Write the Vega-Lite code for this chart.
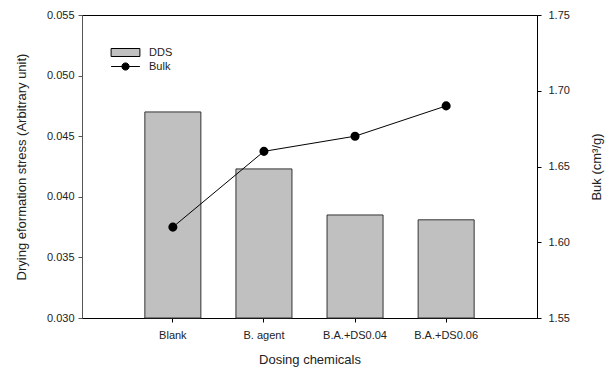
{
  "$schema": "https://vega.github.io/schema/vega-lite/v6.json",
  "width": 455,
  "height": 303,
  "autosize": {"type": "none"},
  "padding": {"left": 82, "top": 15, "right": 69, "bottom": 52},
  "background": "white",
  "config": {
    "font": "Liberation Sans",
    "view": {"stroke": "black", "strokeWidth": 1},
    "axis": {
      "labelFont": "Liberation Sans",
      "titleFont": "Liberation Sans",
      "labelFontSize": 11,
      "titleFontSize": 13,
      "titleFontWeight": "normal",
      "labelColor": "#222",
      "titleColor": "#222",
      "domainColor": "black",
      "tickColor": "black",
      "tickSize": 4,
      "grid": false
    },
    "legend": {"labelFont": "Liberation Sans", "labelFontSize": 11, "labelColor": "#222"}
  },
  "data": {
    "values": [
      {"chem": "Blank", "dds": 0.0470, "bulk": 1.61},
      {"chem": "B. agent", "dds": 0.0423, "bulk": 1.66},
      {"chem": "B.A.+DS0.04", "dds": 0.0385, "bulk": 1.67},
      {"chem": "B.A.+DS0.06", "dds": 0.0381, "bulk": 1.69}
    ]
  },
  "encoding": {
    "x": {
      "field": "chem",
      "type": "nominal",
      "sort": null,
      "scale": {"paddingInner": 0.385, "paddingOuter": 0.69},
      "axis": {"title": "Dosing chemicals", "labelAngle": 0, "labelPadding": 7, "titlePadding": 13}
    }
  },
  "layer": [
    {
      "mark": {"type": "bar", "stroke": "#333", "strokeWidth": 1},
      "encoding": {
        "y": {
          "field": "dds",
          "type": "quantitative",
          "scale": {"domain": [0.03, 0.055], "zero": false},
          "axis": {
            "orient": "left",
            "title": "Drying eformation stress (Arbitrary unit)",
            "values": [0.03, 0.035, 0.04, 0.045, 0.05, 0.055],
            "format": ".3f",
            "domainColor": "#555",
            "tickColor": "#555",
            "labelPadding": 4,
            "titlePadding": 18
          }
        },
        "y2": {"datum": 0.03},
        "fill": {
          "datum": "DDS",
          "type": "nominal",
          "scale": {"range": ["#c0c0c0"]},
          "legend": {
            "title": null,
            "orient": "none",
            "legendX": 38,
            "legendY": 32,
            "symbolSize": 64,
            "symbolType": "M-3.6,-1H3.6V1H-3.6Z",
            "symbolStrokeColor": "black",
            "symbolStrokeWidth": 1,
            "symbolOpacity": 1,
            "labelOffset": 18
          }
        }
      }
    },
    {
      "mark": {"type": "line", "strokeWidth": 1, "color": "black", "point": {"filled": true, "size": 50, "color": "black"}},
      "encoding": {
        "y": {
          "field": "bulk",
          "type": "quantitative",
          "scale": {"domain": [1.55, 1.75], "zero": false},
          "axis": {
            "orient": "right",
            "title": "Buk (cm³/g)",
            "values": [1.55, 1.6, 1.65, 1.7, 1.75],
            "format": ".2f",
            "titleAngle": -90,
            "labelPadding": 7,
            "titlePadding": 34
          }
        },
        "stroke": {
          "datum": "Bulk",
          "type": "nominal",
          "scale": {"range": ["black"]},
          "legend": {
            "title": null,
            "orient": "none",
            "legendX": 38,
            "legendY": 46,
            "symbolSize": 64,
            "symbolType": "M-3.6,0H3.6M0.9,0A0.9,0.9 0 1,1 -0.9,0A0.9,0.9 0 1,1 0.9,0Z",
            "symbolFillColor": "black",
            "symbolStrokeWidth": 1,
            "symbolOpacity": 1,
            "labelOffset": 18
          }
        }
      }
    }
  ],
  "resolve": {"scale": {"y": "independent"}}
}
